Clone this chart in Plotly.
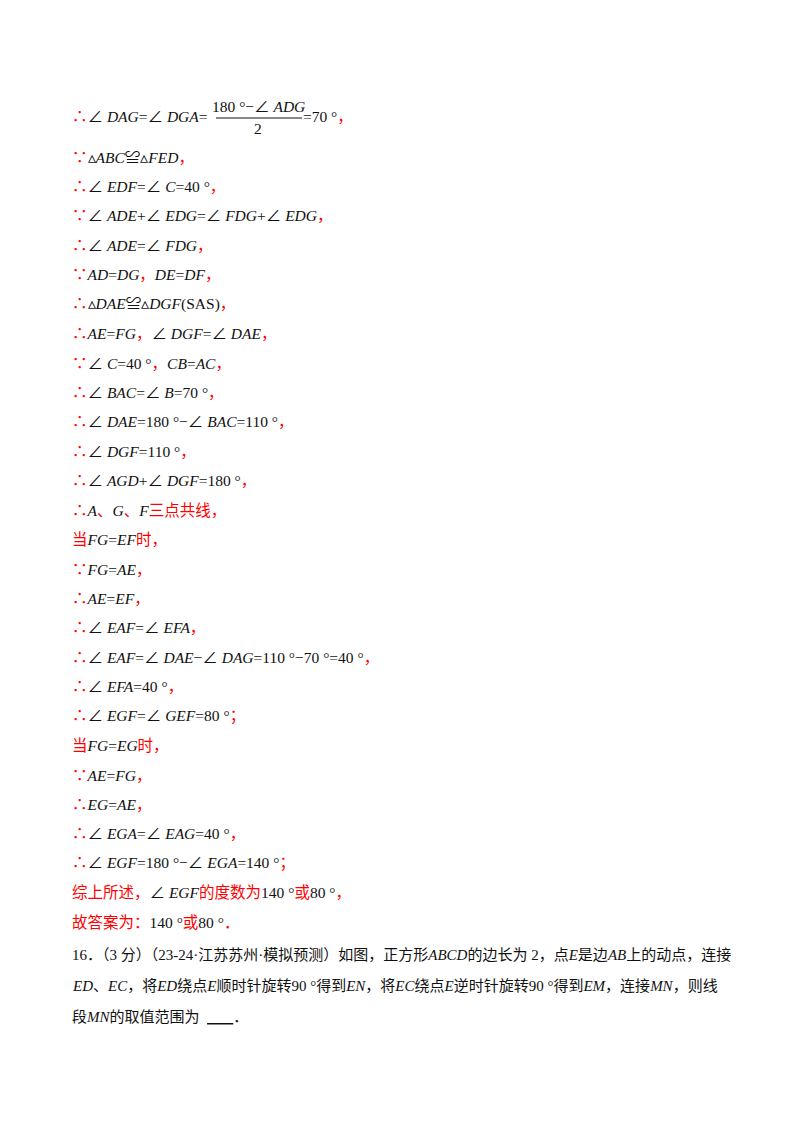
import plotly.graph_objects as go

# «...» = red text, ‹...› = italic math
solution_lines = [
    "«∵»▵‹ABC›≌▵‹FED›«，»",
    "«∴»∠ ‹EDF›=∠ ‹C›=40 °«，»",
    "«∵»∠ ‹ADE›+∠ ‹EDG›=∠ ‹FDG›+∠ ‹EDG›«，»",
    "«∴»∠ ‹ADE›=∠ ‹FDG›«，»",
    "«∵»‹AD›=‹DG›«，»‹DE›=‹DF›«，»",
    "«∴»▵‹DAE›≌▵‹DGF›(SAS)«，»",
    "«∴»‹AE›=‹FG›«，»∠ ‹DGF›=∠ ‹DAE›«，»",
    "«∵»∠ ‹C›=40 °«，»‹CB›=‹AC›«，»",
    "«∴»∠ ‹BAC›=∠ ‹B›=70 °«，»",
    "«∴»∠ ‹DAE›=180 °−∠ ‹BAC›=110 °«，»",
    "«∴»∠ ‹DGF›=110 °«，»",
    "«∴»∠ ‹AGD›+∠ ‹DGF›=180 °«，»",
    "«∴»‹A›«、»‹G›«、»‹F›«三点共线，»",
    "«当»‹FG›=‹EF›«时，»",
    "«∵»‹FG›=‹AE›«，»",
    "«∴»‹AE›=‹EF›«，»",
    "«∴»∠ ‹EAF›=∠ ‹EFA›«，»",
    "«∴»∠ ‹EAF›=∠ ‹DAE›−∠ ‹DAG›=110 °−70 °=40 °«，»",
    "«∴»∠ ‹EFA›=40 °«，»",
    "«∴»∠ ‹EGF›=∠ ‹GEF›=80 °«；»",
    "«当»‹FG›=‹EG›«时，»",
    "«∵»‹AE›=‹FG›«，»",
    "«∴»‹EG›=‹AE›«，»",
    "«∴»∠ ‹EGA›=∠ ‹EAG›=40 °«，»",
    "«∴»∠ ‹EGF›=180 °−∠ ‹EGA›=140 °«；»",
    "«综上所述，»∠ ‹EGF›«的度数为»140 °«或»80 °«，»",
    "«故答案为：»140 °«或»80 °«．»",
]

question_lines = [
    "16．（3 分）（23-24·江苏苏州·模拟预测）如图，正方形‹ABCD›的边长为 2，点‹E›是边‹AB›上的动点，连接",
    "‹ED›、‹EC›，将‹ED›绕点‹E›顺时针旋转90 °得到‹EN›，将‹EC›绕点‹E›逆时针旋转90 °得到‹EM›，连接‹MN›，则线",
    "段‹MN›的取值范围为  <u>       </u>．",
]

first_left = "«∴»∠ ‹DAG›=∠ ‹DGA›="
first_num = "180 °−∠ ‹ADG›"
first_den = "2"
first_right = "=70 °«，»"


def markup(s):
    return (s.replace("«", "<span style='color:#ff0000'>").replace("»", "</span>")
             .replace("‹", "<i>").replace("›", "</i>"))


FONT = dict(family="Liberation Serif, Noto Sans CJK SC", size=15.5, color="#111111")
X0 = 62
DY = -8

fig = go.Figure()
ann = []

# first line with the fraction
ann.append(dict(x=X0, y=116 + DY, text=markup(first_left), xanchor="left", yanchor="middle"))
ann.append(dict(x=250, y=106 + DY, text=markup(first_num), xanchor="center", yanchor="middle"))
ann.append(dict(x=250, y=128 + DY, text=markup(first_den), xanchor="center", yanchor="middle"))
ann.append(dict(x=293, y=116 + DY, text=markup(first_right), xanchor="left", yanchor="middle"))

for i, line in enumerate(solution_lines):
    ann.append(dict(x=X0, y=157 + DY + i * 29.43, text=markup(line), xanchor="left", yanchor="middle"))

for i, line in enumerate(question_lines):
    ann.append(dict(x=X0, y=955 + DY + i * 30.8, text=markup(line), xanchor="left", yanchor="middle",
                    font=dict(family="Liberation Serif, Noto Sans CJK SC", size=15, color="#111111")))

for a in ann:
    a.setdefault("font", FONT)
    a.update(xref="x", yref="y", showarrow=False)

fig.add_shape(type="line", x0=208, x1=294, y0=118 + DY, y1=118 + DY, line=dict(color="#111111", width=1))

fig.update_layout(
    width=800, height=1132,
    margin=dict(l=0, r=0, t=0, b=0),
    paper_bgcolor="white", plot_bgcolor="white",
    xaxis=dict(range=[0, 800], visible=False),
    yaxis=dict(range=[1132, 0], visible=False),
    annotations=ann,
    showlegend=False,
)

fig.write_html("out.html")
